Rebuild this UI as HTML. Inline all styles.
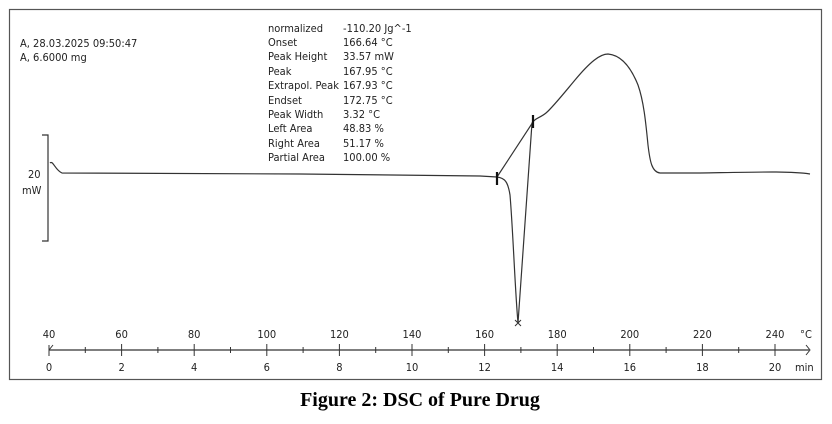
<!DOCTYPE html>
<html><head><meta charset="utf-8"><style>
body{margin:0;background:#fff;}
svg text{font-family:"DejaVu Sans Condensed","Liberation Sans",sans-serif;font-size:11px;fill:#222;}
</style></head><body>
<svg width="832" height="419" viewBox="0 0 832 419" xmlns="http://www.w3.org/2000/svg">
<rect x="9.5" y="9.5" width="812" height="370" fill="none" stroke="#555" stroke-width="1.2"/>
<text x="20" y="47">A, 28.03.2025 09:50:47</text>
<text x="20" y="61">A, 6.6000 mg</text>
<g>
<text x="268" y="32">normalized</text><text x="343" y="32">-110.20 Jg^-1</text>
<text x="268" y="46">Onset</text><text x="343" y="46">166.64 °C</text>
<text x="268" y="60">Peak Height</text><text x="343" y="60">33.57 mW</text>
<text x="268" y="75">Peak</text><text x="343" y="75">167.95 °C</text>
<text x="268" y="89">Extrapol. Peak</text><text x="343" y="89">167.93 °C</text>
<text x="268" y="104">Endset</text><text x="343" y="104">172.75 °C</text>
<text x="268" y="118">Peak Width</text><text x="343" y="118">3.32 °C</text>
<text x="268" y="132">Left Area</text><text x="343" y="132">48.83 %</text>
<text x="268" y="147">Right Area</text><text x="343" y="147">51.17 %</text>
<text x="268" y="161">Partial Area</text><text x="343" y="161">100.00 %</text>
</g>
<path d="M42,135H48V241H42" fill="none" stroke="#333" stroke-width="1.2"/>
<text x="28" y="178">20</text>
<text x="22" y="194">mW</text>
<path d="M50,163 C53,160 55,170 62,173 L300,174 L480,176 L497,177 C505,178 508,182 510,195 C513,230 515,290 518,323 L532,123 C535,118 540,118 546,113 C552,108 560,98 575,80 C590,62 600,54 608,54 C620,55 630,65 638,85 C644,102 646,125 648,145 C650,162 652,172 660,173 L700,173 C760,172 790,171 810,174" fill="none" stroke="#333" stroke-width="1.2"/>
<path d="M497,177 L533,122" stroke="#333" stroke-width="1.2"/>
<path d="M497,172V185 M533,115V128" stroke="#111" stroke-width="2.2"/>
<path d="M515,320 l6,6 M521,320 l-6,6" stroke="#333" stroke-width="1"/>
<line x1="49" y1="350" x2="809" y2="350" stroke="#333" stroke-width="1.2"/>
<path d="M49,345V356 M806,345 L810,350 L806,355 M49,350 l4,-5" fill="none" stroke="#333"/>
<g stroke="#333" stroke-width="1">
<path d="M85.3,347V353 M157.9,347V353 M230.5,347V353 M303.1,347V353 M375.7,347V353 M448.3,347V353 M520.9,347V353 M593.5,347V353 M666.1,347V353 M738.7,347V353"/>
<path d="M121.6,344V356 M194.2,344V356 M266.8,344V356 M339.4,344V356 M412,344V356 M484.6,344V356 M557.2,344V356 M629.8,344V356 M702.4,344V356 M775,344V356"/>
</g>
<g text-anchor="middle">
<text x="49" y="338">40</text><text x="121.6" y="338">60</text><text x="194.2" y="338">80</text><text x="266.8" y="338">100</text><text x="339.4" y="338">120</text><text x="412" y="338">140</text><text x="484.6" y="338">160</text><text x="557.2" y="338">180</text><text x="629.8" y="338">200</text><text x="702.4" y="338">220</text><text x="775" y="338">240</text>
<text x="49" y="371">0</text><text x="121.6" y="371">2</text><text x="194.2" y="371">4</text><text x="266.8" y="371">6</text><text x="339.4" y="371">8</text><text x="412" y="371">10</text><text x="484.6" y="371">12</text><text x="557.2" y="371">14</text><text x="629.8" y="371">16</text><text x="702.4" y="371">18</text><text x="775" y="371">20</text>
</g>
<text x="800" y="338">°C</text>
<text x="795" y="371">min</text>
<text x="420" y="406" text-anchor="middle" style="font-family:'Liberation Serif',serif;font-weight:bold;font-size:20px;fill:#000">Figure 2: DSC of Pure Drug</text>
</svg>
</body></html>
